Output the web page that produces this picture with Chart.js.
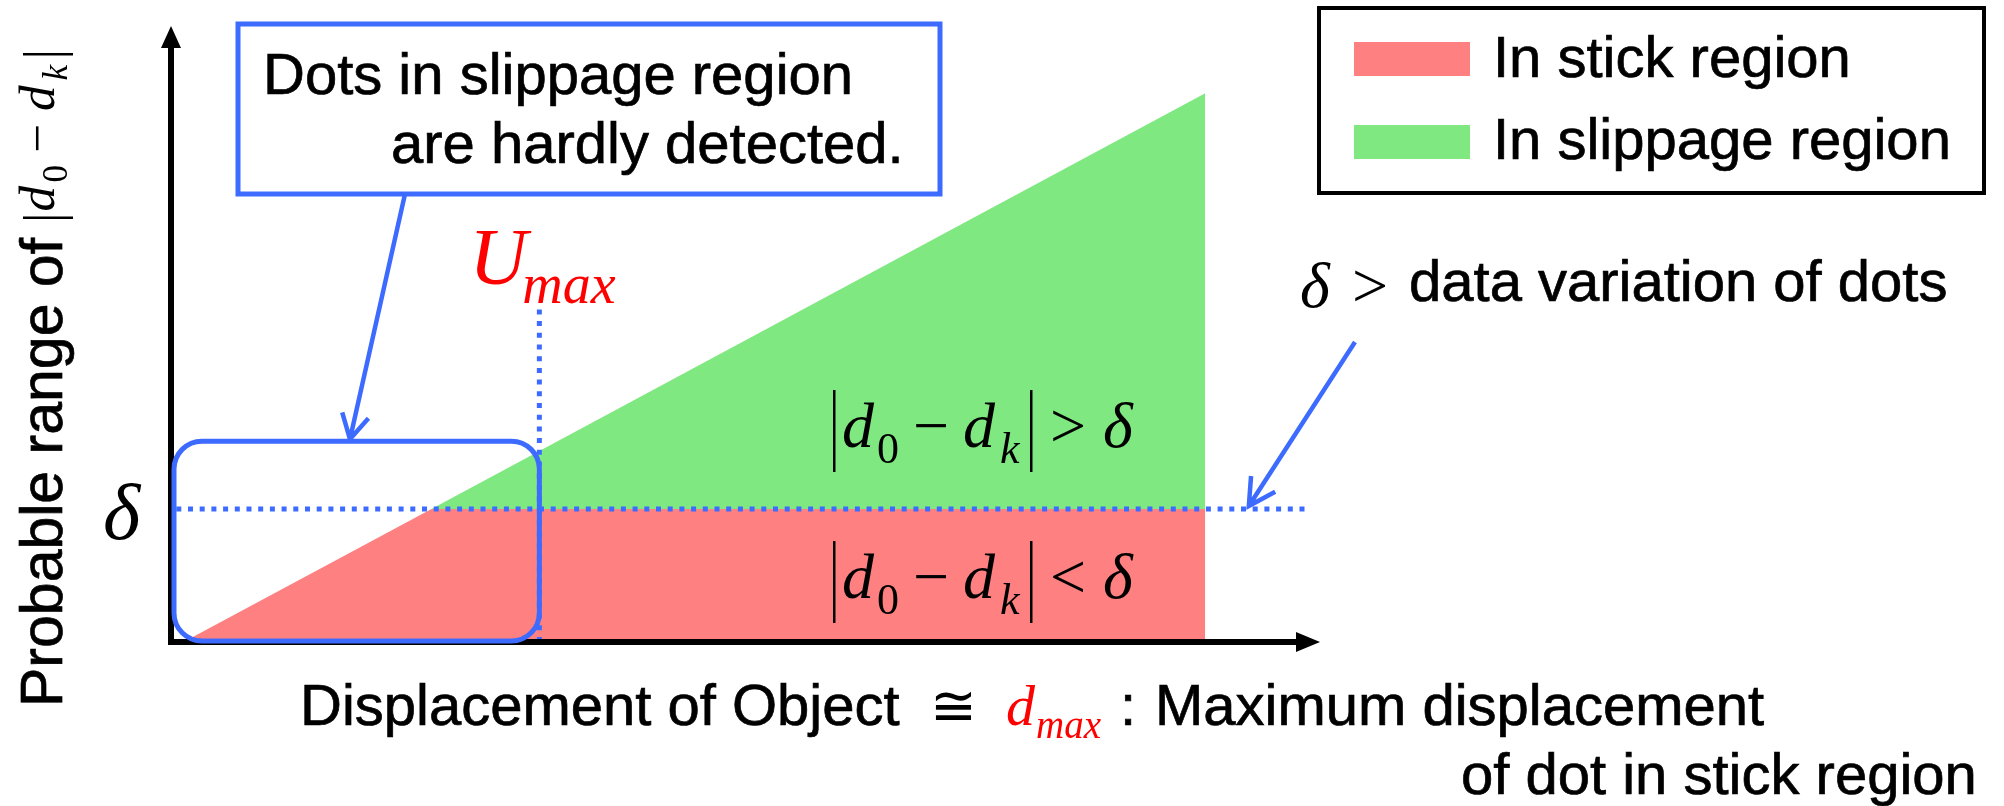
<!DOCTYPE html>
<html>
<head>
<meta charset="utf-8">
<script src="https://cdn.jsdelivr.net/npm/chart.js@4/dist/chart.umd.min.js"></script>
<style>
  html, body { margin: 0; padding: 0; background: #fff; }
  #wrap { width: 2004px; height: 806px; position: relative; }
</style>
</head>
<body>
<div id="wrap"><canvas id="myChart"></canvas></div>
<script>
// Данные схемы (в единицах осей 0..100)
const stickX = [1, 22.6, 90];
const stickY = [0, 21.6, 21.6];
const slipX = [22.6, 90];
const slipY = [21.6, 89.1];
const deltaLevel = 21.6;
const deltaLineX = [0.2, 98.7];
const uMax = 32;
const uMaxLineY = [0, 54.2];
const hardBoxX = [0, 32];
const hardBoxY = [0, 32.6];
const legendLabels = ['In stick region', 'In slippage region'];

const RED = '#ff8080';
const GREEN = '#80e880';
const BLUE = '#3d6bff';
const SANS = '"Liberation Sans", Arial, sans-serif';
const SERIF = '"Liberation Serif", "Times New Roman", serif';

function pts(xs, ys) {
  return xs.map((x, i) => ({ x: x, y: ys[i] }));
}

function arrowLine(ctx, x1, y1, x2, y2, head) {
  const a = Math.atan2(y2 - y1, x2 - x1);
  ctx.beginPath();
  ctx.moveTo(x1, y1);
  ctx.lineTo(x2, y2);
  ctx.moveTo(x2 - head * Math.cos(a - 0.5), y2 - head * Math.sin(a - 0.5));
  ctx.lineTo(x2, y2);
  ctx.lineTo(x2 - head * Math.cos(a + 0.5), y2 - head * Math.sin(a + 0.5));
  ctx.stroke();
}

function text(ctx, s, x, y, font, color, heavy) {
  ctx.font = font;
  ctx.fillStyle = color || '#000';
  ctx.textAlign = 'left';
  ctx.textBaseline = 'alphabetic';
  ctx.fillText(s, x, y);
  if (heavy) {
    // чуть плотнее, как в оригинале
    ctx.save();
    ctx.strokeStyle = color || '#000';
    ctx.lineWidth = heavy;
    ctx.setLineDash([]);
    ctx.strokeText(s, x, y);
    ctx.restore();
  }
}

// |d0 - dk| (rel delta)
function formula(ctx, x0, y0, rel, opt) {
  const s = opt.s, p = opt.p;
  const it = sz => `italic ${sz * s}px ${SERIF}`;
  const up = sz => `${sz * s}px ${SERIF}`;
  ctx.save();
  ctx.translate(x0, y0);
  if (opt.rotate) ctx.rotate(-Math.PI / 2);
  ctx.fillStyle = '#000';
  ctx.textAlign = 'left';
  ctx.textBaseline = 'alphabetic';
  const bar = x => ctx.fillRect(x * p, opt.barTop, opt.barW, opt.barBot - opt.barTop);
  bar(0);
  ctx.font = it(64); ctx.fillText('d', 9 * p, 0);
  ctx.font = up(44); ctx.fillText('0', 44 * p, 16 * s);
  ctx.font = up(64); ctx.fillText('\u2212', 80 * p, 0);
  ctx.font = it(64); ctx.fillText('d', 130 * p, 0);
  ctx.font = it(44); ctx.fillText('k', 167 * p, 16 * s);
  bar(197);
  if (rel) {
    ctx.font = up(64); ctx.fillText(rel, 217 * p, 0);
    ctx.font = it(64); ctx.fillText('\u03b4', 270 * p, 0);
  }
  ctx.restore();
}

const diagramPlugin = {
  id: 'diagram',
  afterDatasetsDraw(chart) {
    const ctx = chart.ctx;
    const xs = chart.scales.x, ys = chart.scales.y;
    const a = chart.chartArea;
    const F = `58px ${SANS}`;
    ctx.save();

    // оси со стрелками
    ctx.strokeStyle = '#000';
    ctx.fillStyle = '#000';
    ctx.lineWidth = 6;
    ctx.beginPath();
    ctx.moveTo(a.left - 1, a.bottom + 3);
    ctx.lineTo(a.left - 1, a.top + 16);
    ctx.moveTo(a.left - 4, a.bottom);
    ctx.lineTo(a.right - 18, a.bottom);
    ctx.stroke();
    ctx.beginPath();
    ctx.moveTo(a.left - 1, a.top);
    ctx.lineTo(a.left - 11, a.top + 22);
    ctx.lineTo(a.left + 9, a.top + 22);
    ctx.closePath();
    ctx.fill();
    ctx.beginPath();
    ctx.moveTo(a.right, a.bottom);
    ctx.lineTo(a.right - 24, a.bottom - 10);
    ctx.lineTo(a.right - 24, a.bottom + 10);
    ctx.closePath();
    ctx.fill();

    // рамка с закруглёнными углами
    const bx0 = xs.getPixelForValue(hardBoxX[0]) + 2, bx1 = xs.getPixelForValue(hardBoxX[1]);
    const by0 = ys.getPixelForValue(hardBoxY[1]), by1 = ys.getPixelForValue(hardBoxY[0]) - 1;
    ctx.strokeStyle = BLUE;
    ctx.lineWidth = 5;
    ctx.beginPath();
    ctx.roundRect(bx0, by0, bx1 - bx0, by1 - by0, 28);
    ctx.stroke();

    // выноска
    ctx.fillStyle = '#fff';
    ctx.fillRect(238, 24, 702, 170);
    ctx.strokeRect(238, 24, 702, 170);
    text(ctx, 'Dots in slippage region', 263, 94, F, '#000', 0.7);
    text(ctx, 'are hardly detected.', 391, 163, F, '#000', 0.7);
    ctx.strokeStyle = BLUE;
    ctx.lineWidth = 4.5;
    arrowLine(ctx, 405, 194, xs.getPixelForValue(15.5), by0 - 2, 28);

    // δ > data variation of dots
    const dy = ys.getPixelForValue(deltaLevel);
    text(ctx, '\u03b4', 1300, 307, `italic 64px ${SERIF}`);
    text(ctx, '>', 1352, 307, `64px ${SERIF}`);
    text(ctx, 'data variation of dots', 1409, 301, F, '#000', 0.7);
    arrowLine(ctx, 1355, 342, xs.getPixelForValue(93.8), dy - 3, 30);

    // U_max
    const ux = xs.getPixelForValue(uMax);
    text(ctx, 'U', ux - 70, 284, `italic 80px ${SERIF}`, '#ff0000');
    text(ctx, 'max', ux - 17, 303, `italic 56px ${SERIF}`, '#ff0000');

    // δ на оси
    text(ctx, '\u03b4', 103, dy + 30, `italic 80px ${SERIF}`);

    // формулы в областях
    formula(ctx, 833, 447, '>', { s: 1, p: 1, barTop: -57, barBot: 25, barW: 2.5 });
    formula(ctx, 833, 598, '<', { s: 1, p: 1, barTop: -57, barBot: 25, barW: 2.5 });

    // легенда
    ctx.strokeStyle = '#000';
    ctx.lineWidth = 4;
    ctx.strokeRect(1319, 8, 665, 185);
    chart.data.datasets.slice(2).forEach((ds, i) => {
      ctx.fillStyle = ds.backgroundColor;
      ctx.fillRect(1354, 42 + i * 83, 116, 34);
      text(ctx, legendLabels[i], 1493, 77 + i * 82, F, '#000', 0.7);
    });

    // подпись оси X
    text(ctx, 'Displacement of Object', 300, 725, F, '#000', 0.7);
    text(ctx, '\u2245', 930, 725, `56px "DejaVu Sans", sans-serif`);
    text(ctx, 'd', 1006, 725, `italic 58px ${SERIF}`, '#ff0000');
    text(ctx, 'max', 1036, 738, `italic 39px ${SERIF}`, '#ff0000');
    text(ctx, ':', 1120, 725, F, '#000', 0.7);
    text(ctx, 'Maximum displacement', 1155, 725, F, '#000', 0.7);
    text(ctx, 'of dot in stick region', 1461, 794, F, '#000', 0.7);

    // подпись оси Y
    ctx.save();
    ctx.translate(62, 707);
    ctx.rotate(-Math.PI / 2);
    text(ctx, 'Probable range of ', 0, 0, `59px ${SANS}`, '#000', 0.7);
    ctx.restore();
    formula(ctx, 54, 219, null, { s: 0.8, p: 0.83, barTop: -31, barBot: 19, barW: 2.5, rotate: true });

    ctx.restore();
  }
};

const ctx = document.getElementById('myChart').getContext('2d');
const chart = new Chart(ctx, {
  type: 'line',
  data: {
    datasets: [
      {
        label: 'delta',
        data: pts(deltaLineX, [deltaLevel, deltaLevel]),
        borderColor: BLUE,
        borderWidth: 5,
        borderDash: [5, 6.7],
        borderDashOffset: -2,
        fill: false,
        order: 0
      },
      {
        label: 'umax',
        data: pts([uMax, uMax], uMaxLineY),
        borderColor: BLUE,
        borderWidth: 5,
        borderDash: [5, 6.7],
        fill: false,
        order: 0
      },
      {
        label: legendLabels[0],
        data: pts(stickX, stickY),
        backgroundColor: RED,
        borderWidth: 0,
        fill: 'origin',
        order: 1
      },
      {
        label: legendLabels[1],
        data: pts(slipX, slipY),
        backgroundColor: GREEN,
        borderWidth: 0,
        fill: { value: deltaLevel },
        order: 1
      }
    ]
  },
  options: {
    responsive: true,
    maintainAspectRatio: false,
    animation: false,
    events: [],
    layout: { padding: { left: 172, right: 684, top: 26, bottom: 164 } },
    elements: { point: { radius: 0 }, line: { tension: 0 } },
    scales: {
      x: { type: 'linear', min: 0, max: 100, display: false },
      y: { type: 'linear', min: 0, max: 100, display: false }
    },
    plugins: {
      legend: { display: false },
      tooltip: { enabled: false }
    }
  },
  plugins: [diagramPlugin]
});
</script>
</body>
</html>
